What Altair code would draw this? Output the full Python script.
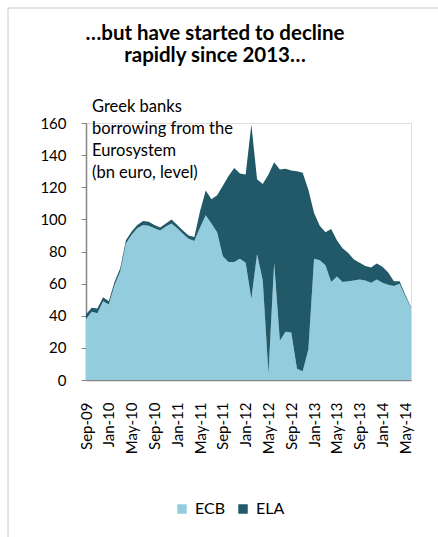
import altair as alt
import pandas as pd

# Monthly, Sep-09 .. Jun-14 (58 months)
months = [d.strftime("%b-%y") for d in pd.date_range("2009-09-01", periods=58, freq="MS")]

ecb = [38, 42.5, 41.5, 49, 47, 59, 67.5, 85, 90.5, 94.5,
       96.5, 96, 94.5, 93, 95.5, 97.5, 94.5, 91, 88, 86.5,
       95, 102.5, 97.5, 92, 77, 73.5, 73.5, 75.5, 73, 50.5,
       78.5, 62, 4, 73, 24.5, 30, 29.5, 7, 5.5, 19,
       75.5, 74.5, 71.5, 61, 64.5, 61, 61.5, 62, 62.5, 62,
       60.5, 62.5, 60.5, 59.3, 58.5, 60, 52, 45]

ela = [3, 2.5, 3, 2.5, 2, 2, 2, 2, 2, 2,
       2.5, 2.5, 2, 2, 2, 2.5, 2, 2, 2, 2.5,
       10, 15.5, 15, 23, 44, 53.5, 58.5, 53, 55, 108.5,
       46.5, 60, 124, 62.5, 106.5, 101.5, 101, 123, 123.5, 99.5,
       28.5, 21.5, 20.5, 33, 22.5, 21, 17.5, 13, 10.5, 9,
       9.5, 10, 10, 7.7, 3, 1.5, 1, 0.5]

tick_labels = ["Sep-09", "Jan-10", "May-10", "Sep-10", "Jan-11", "May-11", "Sep-11",
               "Jan-12", "May-12", "Sep-12", "Jan-13", "May-13", "Sep-13", "Jan-14", "May-14"]
y_ticks = [0, 20, 40, 60, 80, 100, 120, 140, 160]

series_names = ["ECB", "ELA"]
series_colors = ["#93CDDD", "#215968"]

title_lines = ["\u2026but have started to decline", "rapidly since 2013\u2026"]
note_lines = ["Greek banks", "borrowing from the", "Eurosystem", "(bn euro, level)"]

n = len(months)
df = pd.DataFrame({
    "month": months * 2,
    "series": ["ECB"] * n + ["ELA"] * n,
    "value": ecb + ela,
    "order": [0] * n + [1] * n,
})

FONT = "Lato"
W, H = 325, 257

area = alt.Chart(df).mark_area(interpolate="linear").encode(
    x=alt.X("month:O", sort=months, title=None,
            scale=alt.Scale(type="point", padding=0),
            axis=alt.Axis(values=tick_labels, labelAngle=270, ticks=False,
                          labelPadding=22, labelFontSize=15, labelFont=FONT,
                          labelColor="#000000", domainColor="#868686",
                          domainWidth=1.5, grid=False)),
    y=alt.Y("value:Q", stack="zero", title=None,
            scale=alt.Scale(domain=[0, 160], nice=False),
            axis=alt.Axis(values=y_ticks, tickSize=5, tickColor="#868686",
                          labelPadding=15, labelFontSize=15, labelFont=FONT,
                          labelColor="#000000", domainColor="#868686",
                          domainWidth=1.5, grid=False)),
    color=alt.Color("series:N",
                    scale=alt.Scale(domain=series_names, range=series_colors),
                    legend=alt.Legend(title=None, orient="none", legendX=88, legendY=378,
                                      direction="horizontal", symbolType="square",
                                      symbolSize=90, symbolStrokeWidth=0,
                                      labelFontSize=16, labelFont=FONT, labelColor="#000000",
                                      labelOffset=5, columnPadding=9)),
    order=alt.Order("order:Q"),
)

one = pd.DataFrame({"a": [0]})

border = alt.Chart(one).mark_rect(fillOpacity=0, stroke="#c8c8c8", strokeWidth=1).encode(
    x=alt.value(-78), x2=alt.value(480), y=alt.value(-115), y2=alt.value(480)
)

title1 = alt.Chart(one).mark_text(font=FONT, fontSize=20.5, fontWeight="bold", align="center",
                                  baseline="alphabetic", color="#000000").encode(
    x=alt.value(129), y=alt.value(-83), text=alt.value(title_lines[0]))
title2 = alt.Chart(one).mark_text(font=FONT, fontSize=20.5, fontWeight="bold", align="center",
                                  baseline="alphabetic", color="#000000").encode(
    x=alt.value(129), y=alt.value(-61), text=alt.value(title_lines[1]))

note = alt.Chart(one).mark_text(font=FONT, fontSize=16.5, align="left", baseline="alphabetic",
                                lineHeight=22, color="#000000").encode(
    x=alt.value(6), y=alt.value(-11.5), text=alt.value(note_lines))

chart = alt.layer(area, border, title1, title2, note).properties(
    width=W, height=H,
    autosize=alt.AutoSizeParams(type="none"),
    padding={"left": 86, "top": 123, "right": 438 - 86 - W, "bottom": 537 - 123 - H},
).configure_view(stroke=None).configure(background="white")

chart.save("out.html", embed_options={"renderer": "svg", "actions": False})
